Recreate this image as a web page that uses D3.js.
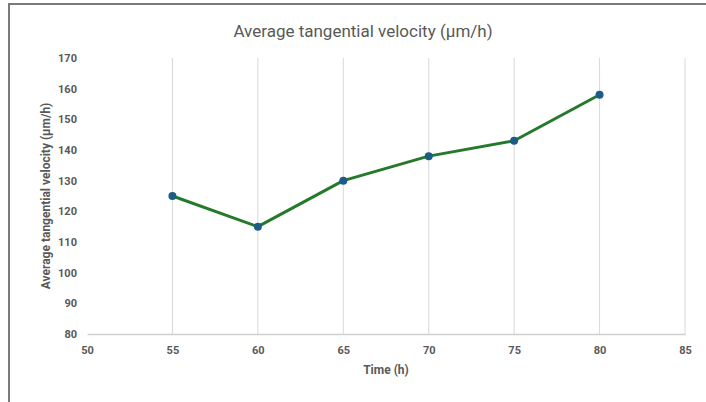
<!DOCTYPE html>
<html>
<head>
<meta charset="utf-8">
<script src="https://cdn.jsdelivr.net/npm/d3@7"></script>
<style>
  body { margin: 0; background: #fff; }
  text { font-family: "Liberation Sans Narrow", "Roboto", "DejaVu Sans Condensed", sans-serif; }
</style>
</head>
<body>
<div class="chart"></div>
<script>
// data
const times = [55, 60, 65, 70, 75, 80];
const velocity = [125, 115, 130, 138, 143, 158];
const xTicks = [50, 55, 60, 65, 70, 75, 80, 85];
const yTicks = [80, 90, 100, 110, 120, 130, 140, 150, 160, 170];

function drawChart(){
    const width = 706;
    const height = 402;
    const margin = {left: 87, right: 21, top: 58, bottom: 68};

    const svg = d3.select('.chart')
        .append('svg')
        .attr('width', width)
        .attr('height', height)

    // outer frame (only top and left visible in the screenshot)
    svg.append('path')
        .attr('d', 'M9,' + height + ' V4 H' + width)
        .attr('fill', 'none')
        .attr('stroke', '#7a7a7a')
        .attr('stroke-width', 2)

    const x = d3.scaleLinear().domain([50, 85]).range([margin.left, width - margin.right]);
    const y = d3.scaleLinear().domain([80, 170]).range([height - margin.bottom, margin.top]);

    // vertical grid lines
    svg.append('g')
        .selectAll('line')
        .data(xTicks.slice(1))
        .enter()
        .append('line')
        .attr('x1', d => x(d))
        .attr('x2', d => x(d))
        .attr('y1', y(170))
        .attr('y2', y(80))
        .attr('stroke', '#d9d9d9')
        .attr('stroke-width', 1)

    // x axis
    const xAxis = svg.append('g')
        .attr('transform', 'translate(0,' + y(80) + ')')
        .call(d3.axisBottom(x).tickValues(xTicks).tickSize(0).tickPadding(12))
    xAxis.select('.domain').attr('stroke', '#d0d0d0').attr('stroke-width', 1.5)
    xAxis.selectAll('text')
        .attr('fill', '#595959')
        .attr('font-size', 11)
        .attr('font-weight', 'bold')

    // y axis
    const yAxis = svg.append('g')
        .attr('transform', 'translate(' + x(50) + ',0)')
        .call(d3.axisLeft(y).tickValues(yTicks).tickSize(0).tickPadding(10))
    yAxis.select('.domain').remove()
    yAxis.selectAll('text')
        .attr('fill', '#595959')
        .attr('font-size', 11)
        .attr('font-weight', 'bold')

    // titles
    svg.append('text')
        .text('Average tangential velocity (µm/h)')
        .attr('x', 363)
        .attr('y', 37)
        .attr('text-anchor', 'middle')
        .attr('font-size', 17)
        .attr('fill', '#595959')

    svg.append('text')
        .text('Time (h)')
        .attr('x', 386)
        .attr('y', 374)
        .attr('text-anchor', 'middle')
        .attr('font-size', 12)
        .attr('font-weight', 'bold')
        .attr('fill', '#595959')

    svg.append('text')
        .text('Average tangential velocity (µm/h)')
        .attr('transform', 'translate(50,' + 196 + ') rotate(-90)')
        .attr('text-anchor', 'middle')
        .attr('font-size', 12)
        .attr('font-weight', 'bold')
        .attr('fill', '#595959')

    // the line
    const points = times.map((t, i) => ({t: t, v: velocity[i]}));
    const line = d3.line()
        .x(d => x(d.t))
        .y(d => y(d.v))

    svg.append('path')
        .datum(points)
        .attr('d', line)
        .attr('fill', 'none')
        .attr('stroke', '#247a2a')
        .attr('stroke-width', 3)
        .attr('stroke-linejoin', 'round')

    svg.selectAll('circle')
        .data(points)
        .enter()
        .append('circle')
        .attr('cx', d => x(d.t))
        .attr('cy', d => y(d.v))
        .attr('r', 4)
        .attr('fill', '#1d5c87')
}

drawChart();
</script>
</body>
</html>
